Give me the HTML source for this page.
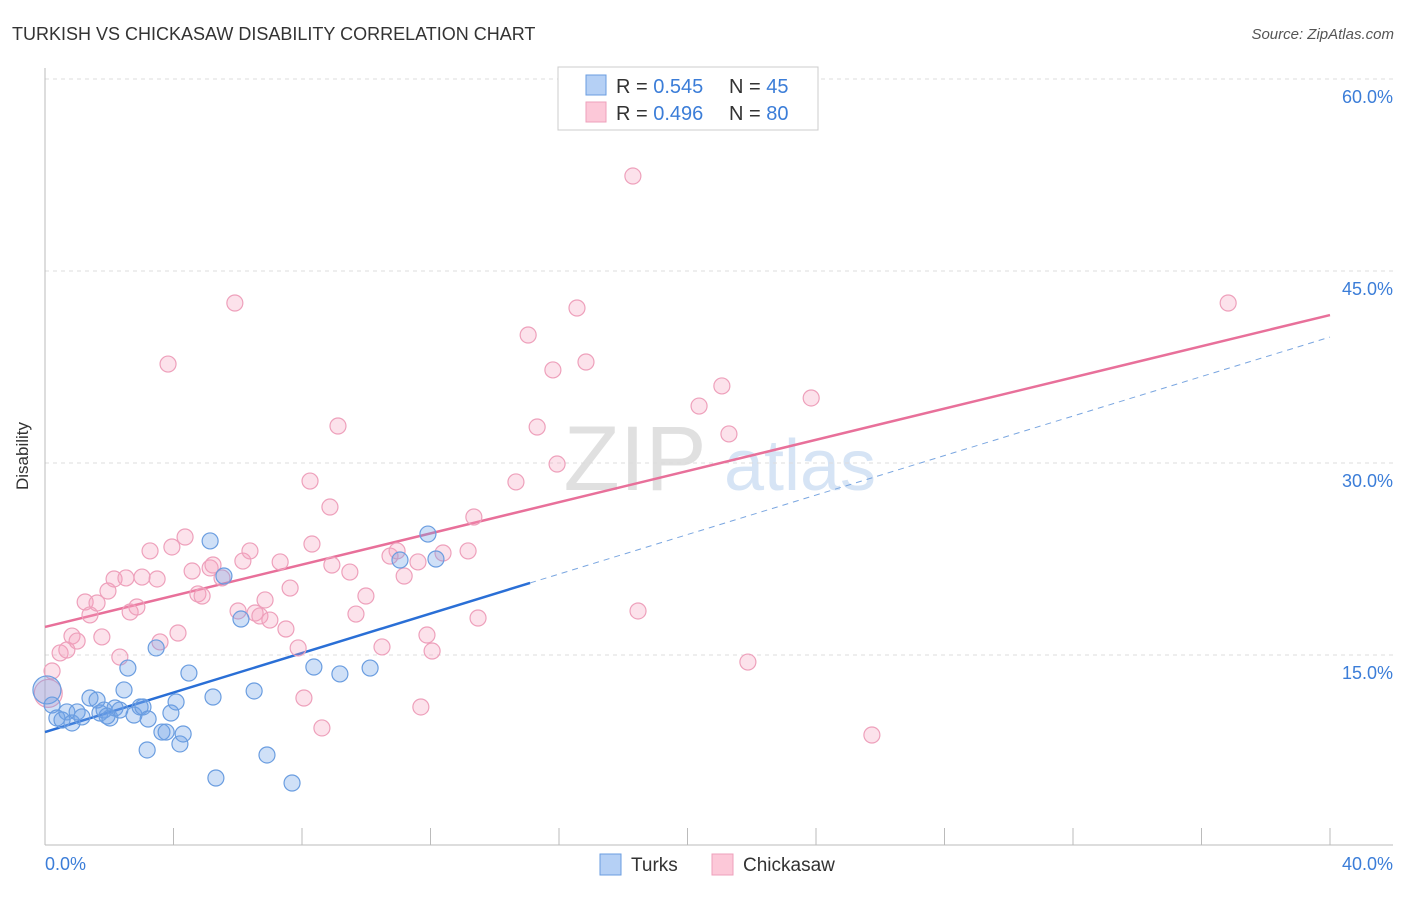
<!DOCTYPE html>
<html><head><meta charset="utf-8"><style>
body{margin:0;background:#fff;font-family:"Liberation Sans",sans-serif}
svg text{font-family:"Liberation Sans",sans-serif}
</style></head><body>
<svg id="c" width="1406" height="892" xmlns="http://www.w3.org/2000/svg">
<text x="12" y="40" font-size="18" fill="#333">TURKISH VS CHICKASAW DISABILITY CORRELATION CHART</text>
<text x="1394" y="39" font-size="15" fill="#555" font-style="italic" text-anchor="end">Source: ZipAtlas.com</text>
<g>
<text x="635" y="490" font-size="92" fill="#e0e0e0" font-family="Liberation Serif" text-anchor="middle">ZIP</text>
<text x="800" y="490" font-size="72" fill="#d6e4f5" text-anchor="middle">atlas</text>
</g>
<g id="grid"></g>
<g id="axes"></g>
<g id="lines"></g>
<g id="pts"></g>
<text x="28" y="456" font-size="17" fill="#333" text-anchor="middle" transform="rotate(-90 28 456)">Disability</text>
<g>
<rect x="558" y="67" width="260" height="63" fill="#fff" stroke="#ccc"/>
<rect x="586" y="75" width="20" height="20" fill="#b5d0f5" stroke="#6a9de0"/>
<rect x="586" y="102" width="20" height="20" fill="#fcc8d8" stroke="#eea0bb"/>
<text x="616" y="93" font-size="20" fill="#333">R = <tspan fill="#3b7dd8">0.545</tspan></text>
<text x="729" y="93" font-size="20" fill="#333">N = <tspan fill="#3b7dd8">45</tspan></text>
<text x="616" y="120" font-size="20" fill="#333">R = <tspan fill="#3b7dd8">0.496</tspan></text>
<text x="729" y="120" font-size="20" fill="#333">N = <tspan fill="#3b7dd8">80</tspan></text>
</g>
<g>
<rect x="600" y="854" width="21" height="21" fill="#b5d0f5" stroke="#6a9de0"/>
<text x="631" y="871" font-size="19" fill="#333">Turks</text>
<rect x="712" y="854" width="21" height="21" fill="#fcc8d8" stroke="#eea0bb"/>
<text x="743" y="871" font-size="19" fill="#333">Chickasaw</text>
</g>
</svg>
<script>
const yTicks=[15,30,45,60];
const yTickLabels=["15.0%","30.0%","45.0%","60.0%"];
const xTickLabels=["0.0%","40.0%"];
const turksX=[0.06,0.22,0.37,0.53,0.68,0.84,1.00,1.15,1.40,1.62,1.71,1.84,2.02,2.18,2.33,2.46,2.58,2.77,2.96,3.05,3.21,3.46,3.64,3.77,3.92,4.08,4.20,4.30,4.48,3.18,5.14,5.23,5.32,5.57,6.10,6.51,6.91,7.69,8.37,9.18,10.12,11.05,11.92,12.17,1.93];
const turksY=[12.27,11.09,10.08,9.92,10.55,9.69,10.55,10.16,11.64,11.48,10.47,10.70,10.08,10.86,10.70,12.27,13.98,10.31,10.94,10.94,10.00,15.55,8.98,8.98,10.47,11.33,8.05,8.83,13.59,7.58,23.91,11.72,5.39,21.17,17.81,12.19,7.19,5.00,14.06,13.52,13.98,22.42,24.45,22.50,10.23];
const chickX=[0.22,0.47,0.68,0.84,1.00,1.25,1.40,1.62,1.77,1.96,2.15,2.33,2.52,2.65,2.86,3.02,3.27,3.49,3.58,3.83,3.95,4.14,4.36,4.58,4.76,4.89,5.14,5.23,5.51,5.91,6.01,6.16,6.38,6.54,6.69,6.85,7.00,7.32,7.50,7.63,7.88,8.06,8.25,8.31,8.62,8.87,8.93,9.12,9.49,9.68,9.99,10.49,10.74,10.96,11.18,11.61,11.70,11.89,12.05,12.39,13.17,13.35,13.48,14.66,15.04,15.32,15.81,15.94,16.56,16.84,18.30,18.46,20.36,21.07,21.29,21.88,23.85,25.74,36.83,0.1];
const chickY=[13.75,15.16,15.39,16.48,16.09,19.14,18.13,19.06,16.41,20.00,20.94,14.84,21.02,18.36,18.75,21.09,23.13,20.94,16.02,37.73,23.44,16.72,24.22,21.56,19.77,19.61,21.80,22.03,21.02,42.50,18.44,22.34,23.13,18.28,18.05,19.30,17.73,22.27,17.03,20.23,15.55,11.64,28.59,23.67,9.30,26.56,22.03,32.89,21.48,18.20,19.61,15.63,22.73,23.13,21.17,22.27,10.94,16.56,15.31,22.97,23.13,25.78,17.89,28.52,40.00,32.81,37.27,29.92,42.11,37.89,52.42,18.44,34.45,36.02,32.27,14.45,35.08,8.75,42.50,12.0];
const turksTrend=[8.98,39.84];
const turksSolidEnd=15.1;
const chickTrend=[17.19,41.56];
const X=v=>45+v/40*1285, Y=v=>847-v*12.8;
const NS="http://www.w3.org/2000/svg";
function mk(tag,attrs,parent){const e=document.createElementNS(NS,tag);for(const k in attrs)e.setAttribute(k,attrs[k]);document.getElementById(parent).appendChild(e);return e;}
yTicks.forEach((t,i)=>{
 const l=mk('line',{x1:45,x2:1393,y1:Y(t),y2:Y(t),stroke:'#ddd','stroke-dasharray':'4,4'},'grid');
 
 
 const tx=mk('text',{x:1393,y:Y(t)+24,'font-size':18,fill:'#3b7dd8','text-anchor':'end'},'grid');
 tx.textContent=yTickLabels[i];
 
 
});
const topLine=mk('line',{x1:45,x2:1393,y1:79,y2:79,stroke:'#ddd','stroke-dasharray':'4,4'},'grid');


const ax=mk('line',{x1:45,x2:45,y1:68,y2:845,stroke:'#bbb'},'axes');


const bx=mk('line',{x1:45,x2:1393,y1:845,y2:845,stroke:'#bbb'},'axes');


for(let i=0;i<=10;i++){
 const t=mk('line',{x1:X(i*4),x2:X(i*4),y1:828,y2:845,stroke:'#bbb'},'axes');
 
 
}
const xl0=mk('text',{x:45,y:870,'font-size':18,fill:'#3b7dd8'},'axes');xl0.textContent=xTickLabels[0];


const xl1=mk('text',{x:1393,y:870,'font-size':18,fill:'#3b7dd8','text-anchor':'end'},'axes');xl1.textContent=xTickLabels[1];


chickX.forEach((x,i)=>{
 const c=mk('circle',{cx:X(x),cy:Y(chickY[i]),r:i==chickX.length-1?14:8,fill:'rgba(246,160,190,0.3)',stroke:'#eea0bb','stroke-width':1.2},'pts');
 
 
});
turksX.forEach((x,i)=>{
 const c=mk('circle',{cx:X(x),cy:Y(turksY[i]),r:i==0?14:8,fill:'rgba(110,160,232,0.33)',stroke:'#6a9de0','stroke-width':1.2},'pts');
 
 
});
const ty=x=>turksTrend[0]+(turksTrend[1]-turksTrend[0])*x/40;
const l1=mk('line',{x1:X(0),y1:Y(ty(0)),x2:X(turksSolidEnd),y2:Y(ty(turksSolidEnd)),stroke:'#2a6fd6','stroke-width':2.5},'lines');


const l2=mk('line',{x1:X(turksSolidEnd),y1:Y(ty(turksSolidEnd)),x2:X(40),y2:Y(ty(40)),stroke:'#7aa6e0','stroke-width':1,'stroke-dasharray':'6,5'},'lines');


const l3=mk('line',{x1:X(0),y1:Y(chickTrend[0]),x2:X(40),y2:Y(chickTrend[1]),stroke:'#e8709a','stroke-width':2.5},'lines');


</script>
</body></html>
